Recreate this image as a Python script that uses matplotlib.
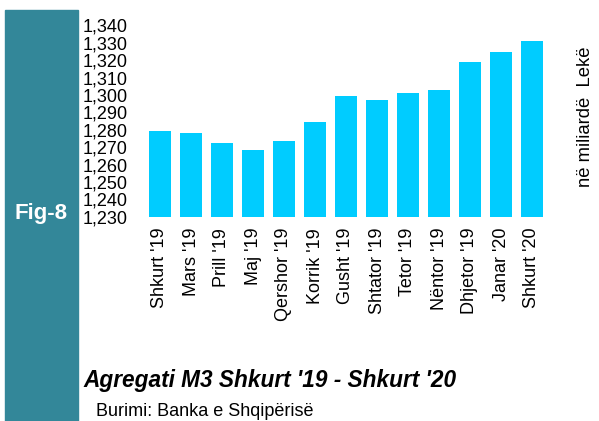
import matplotlib.pyplot as plt
import matplotlib.ticker as mticker
from matplotlib.patches import Rectangle

plt.rcParams['font.family'] = ['Liberation Sans', 'DejaVu Sans']

# Te dhenat (miliarde Leke)
muajt = ["Shkurt '19", "Mars '19", "Prill '19", "Maj '19", "Qershor '19", "Korrik '19",
         "Gusht '19", "Shtator '19", "Tetor '19", "Nëntor '19", "Dhjetor '19",
         "Janar '20", "Shkurt '20"]
m3 = [1279.5, 1278.3, 1272.6, 1268.5, 1273.7, 1284.6, 1299.6,
      1297.3, 1301.3, 1303.0, 1319.1, 1324.9, 1331.2]
yticks = list(range(1230, 1341, 10))

fig = plt.figure(figsize=(5.99, 4.21), dpi=100)

# shiriti anesor
fig.patches.append(Rectangle((5 / 599, 0), 73 / 599, 1 - 10 / 421,
                             transform=fig.transFigure, color='#338799', zorder=0))
fig.text(41 / 599, 1 - 213 / 421, 'Fig-8', color='white', fontsize=16,
         fontweight='bold', ha='center', va='center')

ax = fig.add_axes([144.5 / 599, 1 - 216.7 / 421, 403 / 599, 191.3 / 421])
ax.bar(range(len(muajt)), m3, width=0.74, color='#00CCFF', bottom=0)
ax.set_ylim(1230, 1340)
ax.set_xlim(-0.5, len(muajt) - 0.5)
ax.set_yticks(yticks)
ax.yaxis.set_major_formatter(mticker.FuncFormatter(lambda v, p: f'{int(v):,}'))
ax.set_xticks(range(len(muajt)))
ax.set_xticklabels(muajt, rotation=90)
ax.tick_params(axis='both', length=0, labelsize=13)
ax.tick_params(axis='x', pad=8)
ax.tick_params(axis='y', pad=12)
for s in ax.spines.values():
    s.set_visible(False)

fig.text(586 / 599, 1 - 117 / 421, 'në miliardë  Lekë', rotation=90,
         fontsize=13.3, ha='center', va='center')
fig.text(83 / 599, 1 - 381 / 421, "Agregati M3 Shkurt '19 - Shkurt '20",
         fontsize=16.3, fontweight='bold', fontstyle='italic', va='center')
fig.text(96 / 599, 1 - 411 / 421, 'Burimi: Banka e Shqipërisë',
         fontsize=13, va='center')

fig.savefig('out.png', dpi=100)
